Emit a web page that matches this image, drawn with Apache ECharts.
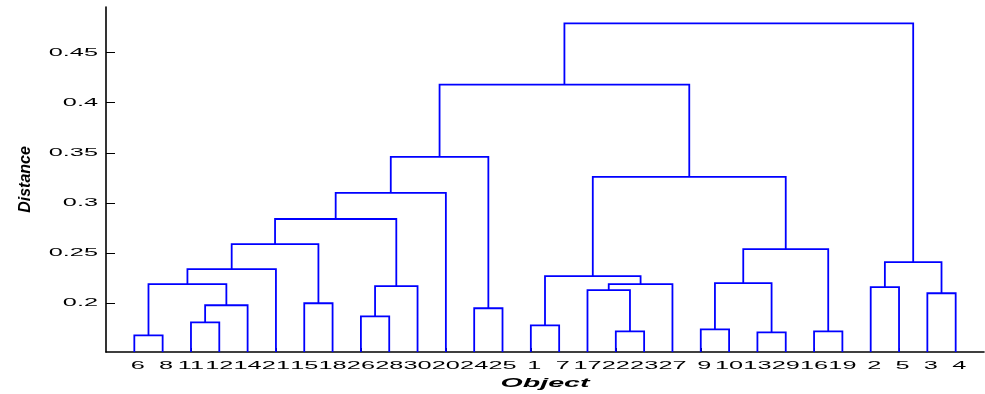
<!DOCTYPE html>
<html>
<head>
<meta charset="utf-8">
<script src="https://cdn.jsdelivr.net/npm/echarts@6/dist/echarts.min.js"></script>
<style>
  html, body { margin: 0; padding: 0; background: #fff; }
  #chart { width: 985px; height: 394px; }
</style>
</head>
<body>
<div id="chart"></div>
<script>
// Object numbers in the order the dendrogram places its leaves
const leafOrder = [6, 8, 11, 12, 14, 21, 15, 18, 26, 28, 30, 20, 24, 25, 1, 7, 17, 22, 23, 27, 9, 10, 13, 29, 16, 19, 2, 5, 3, 4];
// Linkage rows: row k creates cluster 30 + k by joining linkA[k-1] and linkB[k-1]
const linkA = [6, 13, 16, 22, 9, 1, 11, 26, 24, 37, 15, 3, 17, 2, 38, 31, 43, 35, 36, 46, 44, 48, 50, 53, 54, 49, 55, 57, 58];
const linkB = [8, 29, 19, 23, 10, 7, 12, 28, 25, 14, 18, 4, 34, 5, 30, 40, 27, 32, 47, 21, 42, 33, 41, 45, 20, 52, 39, 56, 51];
const linkHeight = [0.168, 0.171, 0.172, 0.172, 0.174, 0.178, 0.181, 0.187, 0.195, 0.198, 0.200, 0.210, 0.213, 0.216, 0.217, 0.219, 0.219, 0.220, 0.227, 0.234, 0.241, 0.254, 0.259, 0.284, 0.310, 0.326, 0.346, 0.418, 0.479];
// Distance axis ticks
const yTickValues = [0.2, 0.25, 0.3, 0.35, 0.4, 0.45];
const yTickLabels = ['0.2', '0.25', '0.3', '0.35', '0.4', '0.45'];

const Y_MIN = 0.1514;
const Y_MAX = 0.4954;
const FONT = '"Liberation Sans", Arial, Helvetica, sans-serif';
const TEXT_STRETCH = 2.3;

// Leaf positions 1..n, cluster positions at the mean of their two children
const nLeaves = leafOrder.length;
const nodeX = {}, nodeH = {};
leafOrder.forEach((id, i) => { nodeX[id] = i + 1; nodeH[id] = Y_MIN; });
const linkData = linkA.map((a, k) => {
  const b = linkB[k];
  const id = nLeaves + k + 1;
  nodeX[id] = (nodeX[a] + nodeX[b]) / 2;
  nodeH[id] = linkHeight[k];
  return [nodeX[a], nodeH[a], nodeX[b], nodeH[b], linkHeight[k]];
});

const chart = echarts.init(document.getElementById('chart'));
const axisLineStyle = { color: '#000', width: 1.6 };

chart.setOption({
  animation: false,
  grid: { left: 106, right: 1, top: 7, bottom: 42 },
  xAxis: {
    type: 'value', min: 0, max: nLeaves + 1,
    axisLine: { onZero: false, lineStyle: axisLineStyle },
    axisTick: { inside: true, length: 4, customValues: leafOrder.map((_, i) => i + 1), lineStyle: { color: '#000', width: 1 } },
    axisLabel: { show: false },
    splitLine: { show: false }
  },
  yAxis: {
    type: 'value', min: Y_MIN, max: Y_MAX,
    name: 'Distance', nameLocation: 'middle', nameRotate: 90, nameGap: 72,
    nameTextStyle: { fontFamily: FONT, fontSize: 16, fontWeight: 'bold', fontStyle: 'italic', color: '#000' },
    axisLine: { show: true, lineStyle: axisLineStyle },
    axisTick: { show: true, inside: true, length: 9, customValues: yTickValues, lineStyle: { color: '#000', width: 1 } },
    axisLabel: { show: false },
    splitLine: { show: false }
  },
  series: [
    {
      // dendrogram links: a U shape from each child up to the join height
      type: 'custom',
      silent: true,
      data: linkData,
      encode: { x: [0, 2], y: [1, 3, 4] },
      renderItem: (params, api) => {
        const pts = [
          [api.value(0), api.value(1)],
          [api.value(0), api.value(4)],
          [api.value(2), api.value(4)],
          [api.value(2), api.value(3)]
        ].map(v => api.coord(v));
        return { type: 'polyline', shape: { points: pts }, style: { stroke: '#0000ff', fill: 'none', lineWidth: 1.8 } };
      }
    },
    {
      // object numbers under the leaves
      type: 'custom',
      silent: true,
      clip: false,
      z: 5,
      data: leafOrder.map((id, i) => [i + 1, Y_MIN]),
      encode: { x: 0, y: 1 },
      renderItem: (params, api) => {
        const p = api.coord([api.value(0), api.value(1)]);
        const txt = String(leafOrder[params.dataIndex]);
        const pad = (2 - txt.length) * 3.5;
        return {
          type: 'text', x: p[0] + pad, y: p[1] + 14, scaleX: TEXT_STRETCH,
          style: { text: txt, font: '11px ' + FONT, fill: '#000', align: 'center', verticalAlign: 'middle' }
        };
      }
    },
    {
      // distance tick labels
      type: 'custom',
      silent: true,
      clip: false,
      z: 5,
      data: yTickValues.map(v => [0, v]),
      encode: { x: 0, y: 1 },
      renderItem: (params, api) => {
        const p = api.coord([api.value(0), api.value(1)]);
        return {
          type: 'text', x: p[0] - 8, y: p[1], scaleX: TEXT_STRETCH,
          style: { text: yTickLabels[params.dataIndex], font: '11px ' + FONT, fill: '#000', align: 'right', verticalAlign: 'middle' }
        };
      }
    }
  ]
});

// x axis title, centred under the plot area
const mid = chart.convertToPixel({ gridIndex: 0 }, [(nLeaves + 1) / 2, Y_MIN]);
chart.setOption({
  graphic: [{
    type: 'text', x: mid[0], y: mid[1] + 31, scaleX: 2.2, silent: true,
    style: { text: 'Object', font: 'italic bold 13px ' + FONT, fill: '#000', align: 'center', verticalAlign: 'middle' }
  }]
});
</script>
</body>
</html>
